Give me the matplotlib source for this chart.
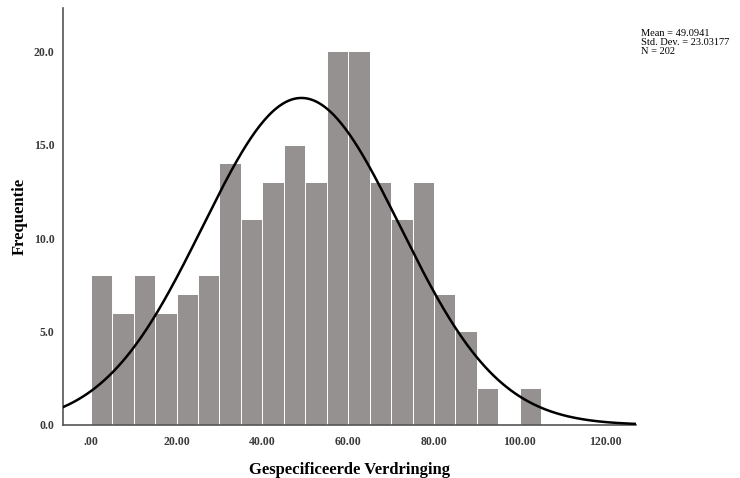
import numpy as np
import matplotlib
matplotlib.use("Agg")
import matplotlib.pyplot as plt

bin_edges_start = 0.0
bin_width = 5.0
counts = [8, 6, 8, 6, 7, 8, 14, 11, 13, 15, 13, 20, 20, 13, 11, 13, 7, 5, 2, 0, 2]
mean = 49.0941
std = 23.03177
n = 202
x_ticks = [0, 20, 40, 60, 80, 100, 120]
x_tick_labels = [".00", "20.00", "40.00", "60.00", "80.00", "100.00", "120.00"]
y_ticks = [0, 5, 10, 15, 20]
y_tick_labels = ["0.0", "5.0", "10.0", "15.0", "20.0"]

plt.rcParams['font.family'] = ['Liberation Serif', 'DejaVu Serif']

fig = plt.figure(figsize=(7.4, 4.78), dpi=100)
ax = fig.add_axes([0.085, 0.111, 0.774, 0.872])

lefts = [bin_edges_start + i * bin_width for i in range(len(counts))]
ax.bar(lefts, counts, width=bin_width, align='edge', color='#959190',
       edgecolor='white', linewidth=0.7, zorder=2)

xmin, xmax = -6.5, 127.0
xs = np.linspace(xmin, xmax, 400)
ys = n * bin_width / (std * np.sqrt(2 * np.pi)) * np.exp(-0.5 * ((xs - mean) / std) ** 2)
ax.plot(xs, ys, color='black', linewidth=1.8, zorder=3)

ax.set_xlim(xmin, xmax)
ax.set_ylim(0, 22.3)
ax.set_xticks(x_ticks)
ax.set_xticklabels(x_tick_labels, fontsize=8.5, color='#3a3a3a')
ax.set_yticks(y_ticks)
ax.set_yticklabels(y_tick_labels, fontsize=8.5, color='#3a3a3a', fontweight='bold')
for lab in ax.get_xticklabels():
    lab.set_fontweight('bold')
ax.tick_params(length=0, pad=8)
ax.tick_params(axis='y', pad=6)

for s in ['top', 'right']:
    ax.spines[s].set_visible(False)
for s in ['left', 'bottom']:
    ax.spines[s].set_color('#555555')
    ax.spines[s].set_linewidth(1.2)

ax.set_xlabel("Gespecificeerde Verdringing", fontsize=12, fontweight='bold', labelpad=10)
ax.set_ylabel("Frequentie", fontsize=12, fontweight='bold', labelpad=4)

fig.text(0.866, 0.94, f"Mean = {mean}\nStd. Dev. = {std}\nN = {n}",
         fontsize=7.5, va='top', ha='left', linespacing=1.05)

fig.savefig("out.png", dpi=100)
